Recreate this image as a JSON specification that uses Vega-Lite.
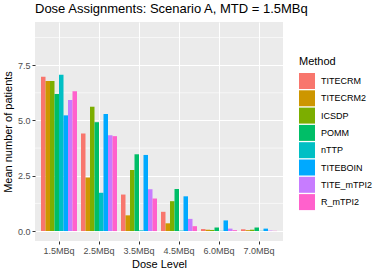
{
  "$schema": "https://vega.github.io/schema/vega-lite/v6.json",
  "width": 248,
  "height": 219,
  "autosize": {"type": "none"},
  "padding": {"left": 35, "top": 22, "right": 99, "bottom": 32},
  "background": "white",
  "config": {
    "font": "Liberation Sans",
    "view": {"fill": "#EBEBEB", "stroke": null}
  },
  "title": {
    "text": "Dose Assignments: Scenario A, MTD = 1.5MBq",
    "anchor": "start",
    "frame": "group",
    "fontSize": 13,
    "fontWeight": "normal",
    "color": "black",
    "offset": 6
  },
  "datasets": {
    "minor": [{"v": 1.25}, {"v": 3.75}, {"v": 6.25}, {"v": 8.75}],
    "bars": [
      {"dose": "1.5MBq", "method": "TITECRM", "mean": 6.98},
      {"dose": "1.5MBq", "method": "TITECRM2", "mean": 6.78},
      {"dose": "1.5MBq", "method": "ICSDP", "mean": 6.78},
      {"dose": "1.5MBq", "method": "POMM", "mean": 6.19},
      {"dose": "1.5MBq", "method": "nTTP", "mean": 7.06},
      {"dose": "1.5MBq", "method": "TITEBOIN", "mean": 5.23},
      {"dose": "1.5MBq", "method": "TITE_mTPI2", "mean": 5.92},
      {"dose": "1.5MBq", "method": "R_mTPI2", "mean": 6.32},
      {"dose": "2.5MBq", "method": "TITECRM", "mean": 4.41},
      {"dose": "2.5MBq", "method": "TITECRM2", "mean": 2.42},
      {"dose": "2.5MBq", "method": "ICSDP", "mean": 5.62},
      {"dose": "2.5MBq", "method": "POMM", "mean": 4.92},
      {"dose": "2.5MBq", "method": "nTTP", "mean": 1.73},
      {"dose": "2.5MBq", "method": "TITEBOIN", "mean": 5.29},
      {"dose": "2.5MBq", "method": "TITE_mTPI2", "mean": 4.33},
      {"dose": "2.5MBq", "method": "R_mTPI2", "mean": 4.29},
      {"dose": "3.5MBq", "method": "TITECRM", "mean": 1.65},
      {"dose": "3.5MBq", "method": "TITECRM2", "mean": 0.71},
      {"dose": "3.5MBq", "method": "ICSDP", "mean": 2.76},
      {"dose": "3.5MBq", "method": "POMM", "mean": 3.47},
      {"dose": "3.5MBq", "method": "nTTP", "mean": 0.03},
      {"dose": "3.5MBq", "method": "TITEBOIN", "mean": 3.44},
      {"dose": "3.5MBq", "method": "TITE_mTPI2", "mean": 1.89},
      {"dose": "3.5MBq", "method": "R_mTPI2", "mean": 1.47},
      {"dose": "4.5MBq", "method": "TITECRM", "mean": 0.87},
      {"dose": "4.5MBq", "method": "TITECRM2", "mean": 0.35},
      {"dose": "4.5MBq", "method": "ICSDP", "mean": 1.35},
      {"dose": "4.5MBq", "method": "POMM", "mean": 1.9},
      {"dose": "4.5MBq", "method": "nTTP", "mean": 0.02},
      {"dose": "4.5MBq", "method": "TITEBOIN", "mean": 1.57},
      {"dose": "4.5MBq", "method": "TITE_mTPI2", "mean": 0.55},
      {"dose": "4.5MBq", "method": "R_mTPI2", "mean": 0.22},
      {"dose": "6.0MBq", "method": "TITECRM", "mean": 0.09},
      {"dose": "6.0MBq", "method": "TITECRM2", "mean": 0.06},
      {"dose": "6.0MBq", "method": "ICSDP", "mean": 0.05},
      {"dose": "6.0MBq", "method": "POMM", "mean": 0.16},
      {"dose": "6.0MBq", "method": "nTTP", "mean": 0.01},
      {"dose": "6.0MBq", "method": "TITEBOIN", "mean": 0.48},
      {"dose": "6.0MBq", "method": "TITE_mTPI2", "mean": 0.11},
      {"dose": "6.0MBq", "method": "R_mTPI2", "mean": 0.04},
      {"dose": "7.0MBq", "method": "TITECRM", "mean": 0.08},
      {"dose": "7.0MBq", "method": "TITECRM2", "mean": 0.04},
      {"dose": "7.0MBq", "method": "ICSDP", "mean": 0.06},
      {"dose": "7.0MBq", "method": "POMM", "mean": 0.16},
      {"dose": "7.0MBq", "method": "nTTP", "mean": 0.01},
      {"dose": "7.0MBq", "method": "TITEBOIN", "mean": 0.11},
      {"dose": "7.0MBq", "method": "TITE_mTPI2", "mean": 0.02},
      {"dose": "7.0MBq", "method": "R_mTPI2", "mean": 0.01}
    ]
  },
  "layer": [
    {
      "data": {"name": "minor"},
      "mark": {"type": "rule", "color": "white", "strokeWidth": 0.6},
      "encoding": {
        "y": {"field": "v", "type": "quantitative"}
      }
    },
    {
      "data": {"name": "bars"},
      "mark": {"type": "bar"},
      "encoding": {
        "x": {
          "field": "dose",
          "type": "nominal",
          "sort": null,
          "scale": {"paddingInner": 0.1, "paddingOuter": 0.15},
          "axis": {
            "title": "Dose Level",
            "titleFontSize": 11,
            "titleFontWeight": "normal",
            "titleColor": "black",
            "titlePadding": 3,
            "labelAngle": 0,
            "labelFontSize": 9,
            "labelColor": "#4D4D4D",
            "labelPadding": 2,
            "bandPosition": 0.5,
            "domain": false,
            "ticks": true,
            "tickSize": 3,
            "tickColor": "#333333",
            "grid": true,
            "gridColor": "white",
            "gridWidth": 1.1
          }
        },
        "xOffset": {
          "field": "method",
          "type": "nominal",
          "sort": ["TITECRM", "TITECRM2", "ICSDP", "POMM", "nTTP", "TITEBOIN", "TITE_mTPI2", "R_mTPI2"],
          "scale": {"paddingInner": 0, "paddingOuter": 0}
        },
        "y": {
          "field": "mean",
          "type": "quantitative",
          "scale": {"domain": [-0.45, 9.45], "nice": false, "zero": false},
          "axis": {
            "title": "Mean number of patients",
            "titleFontSize": 11,
            "titleFontWeight": "normal",
            "titleColor": "black",
            "titlePadding": 4,
            "values": [0, 2.5, 5, 7.5],
            "format": ".1f",
            "labelFontSize": 9,
            "labelColor": "#4D4D4D",
            "labelPadding": 2,
            "domain": false,
            "tickSize": 3,
            "tickColor": "#333333",
            "grid": true,
            "gridColor": "white",
            "gridWidth": 1.1
          }
        },
        "color": {
          "field": "method",
          "type": "nominal",
          "sort": ["TITECRM", "TITECRM2", "ICSDP", "POMM", "nTTP", "TITEBOIN", "TITE_mTPI2", "R_mTPI2"],
          "scale": {
            "domain": ["TITECRM", "TITECRM2", "ICSDP", "POMM", "nTTP", "TITEBOIN", "TITE_mTPI2", "R_mTPI2"],
            "range": ["#F8766D", "#CD9600", "#7CAE00", "#00BE67", "#00BFC4", "#00A9FF", "#C77CFF", "#FF61CC"]
          },
          "legend": {
            "title": "Method",
            "orient": "none",
            "legendX": 264,
            "legendY": 34,
            "titleFontSize": 11,
            "titleFontWeight": "normal",
            "titleColor": "black",
            "titlePadding": 6,
            "labelFontSize": 9,
            "labelColor": "black",
            "labelOffset": 6,
            "symbolType": "square",
            "symbolSize": 256,
            "symbolStrokeWidth": 0,
            "rowPadding": 1.3
          }
        }
      }
    }
  ]
}
